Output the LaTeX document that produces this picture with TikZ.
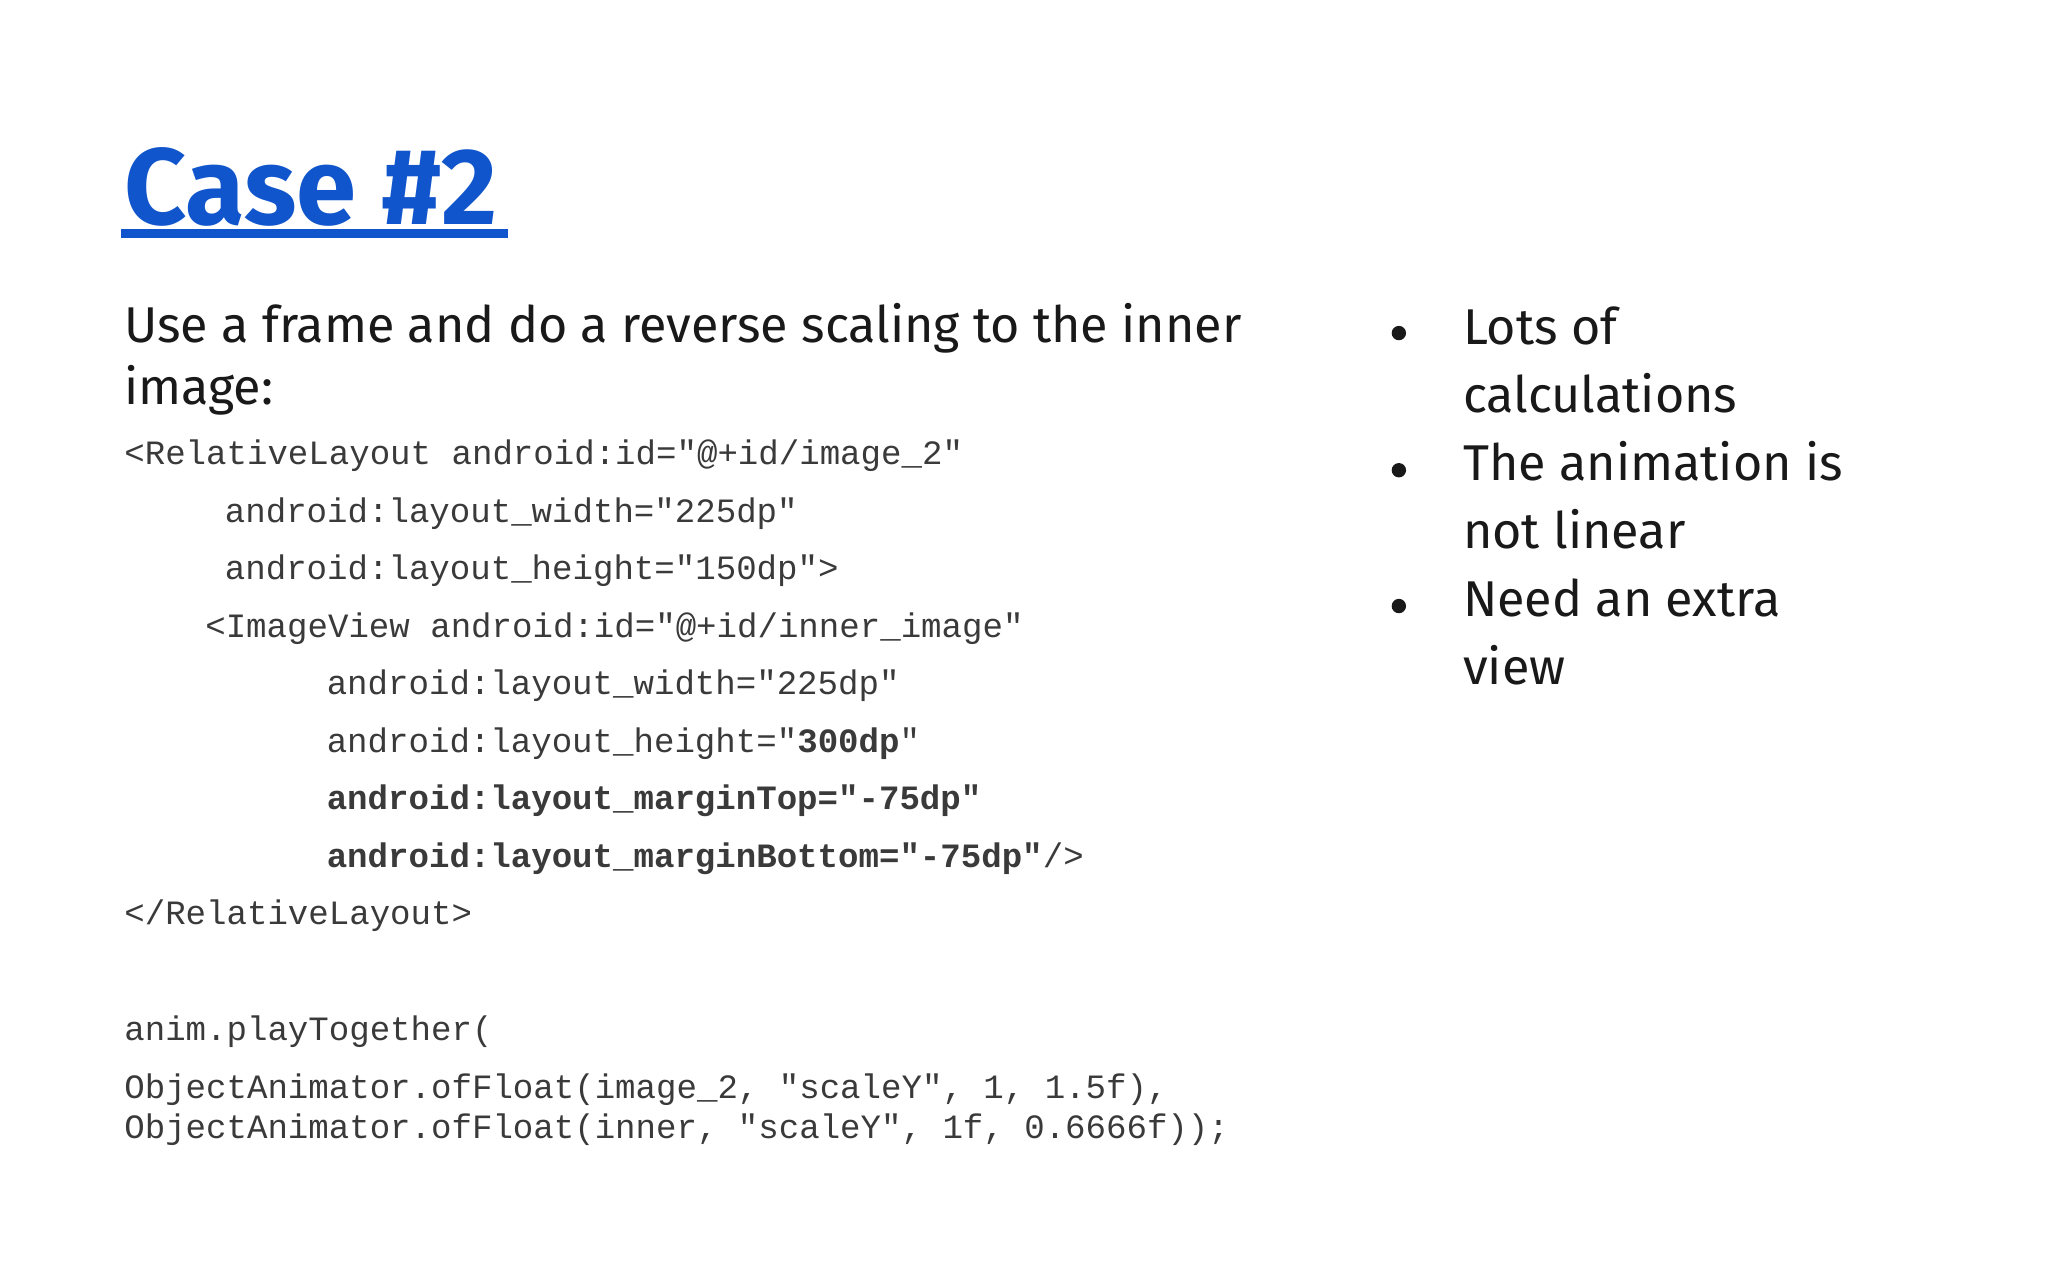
\documentclass[tikz,border=0pt]{standalone}
\usepackage{fontspec}
\setmainfont{Fira Sans}
\setmonofont{Liberation Mono}
\definecolor{ttl}{HTML}{1155CC}
\definecolor{code}{HTML}{3A3A3A}
\begin{document}
\begin{tikzpicture}[x=1pt,y=-1pt,
  tl/.style={anchor=base west,inner sep=0pt},
  body/.style={tl,font=\fontsize{38.5}{40}\selectfont,text=black!90},
  cd/.style={tl,font=\ttfamily\fontsize{26.1}{28}\selectfont,text=code}]
\useasboundingbox[fill=white] (0,0) rectangle (1568,980);
\node[tl,font=\fontsize{83}{85}\selectfont\bfseries,text=ttl] (title) at (95,172) {Case \#2};
\fill[ttl] (93,175) rectangle (389,182);
\node[body] (b1) at (95,262) {Use a frame and do a reverse scaling to the inner};
\node[body] (b2) at (95,310) {image:};
\node[cd] (c1) at (95,356) {<RelativeLayout android:id="@+id/image\_2"};
\node[cd] (c2) at (172,400) {android:layout\_width="225dp"};
\node[cd] (c3) at (172,444) {android:layout\_height="150dp">};
\node[cd] (c4) at (157,488) {<ImageView android:id="@+id/inner\_image"};
\node[cd] (c5) at (250,532) {android:layout\_width="225dp"};
\node[cd] (c6) at (250,576) {android:layout\_height="\textbf{300dp}"};
\node[cd] (c7) at (250,620) {\textbf{android:layout\_marginTop="-75dp"}};
\node[cd] (c8) at (250,664) {\textbf{android:layout\_marginBottom="-75dp"}/>};
\node[cd] (c9) at (95,708) {</RelativeLayout>};
\node[cd] (d1) at (95,797) {anim.playTogether(};
\node[cd] (d2) at (95,841) {ObjectAnimator.ofFloat(image\_2, "scaleY", 1, 1.5f),};
\node[cd] (d3) at (95,872) {ObjectAnimator.ofFloat(inner, "scaleY", 1f, 0.6666f));};
\foreach \y in {255,360,464} \fill[black!90] (1071,\y) circle (5.5);
\node[body] (r1) at (1120,264) {Lots of};
\node[body] (r2) at (1120,316) {calculations};
\node[body] (r3) at (1120,368) {The animation is};
\node[body] (r4) at (1120,420) {not linear};
\node[body] (r5) at (1120,472) {Need an extra};
\node[body] (r6) at (1120,524) {view};
\end{tikzpicture}
\end{document}
